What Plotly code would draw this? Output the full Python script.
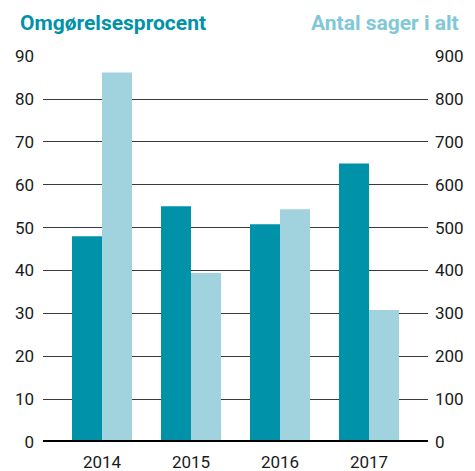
import plotly.graph_objects as go

years = ["2014", "2015", "2016", "2017"]
omgoerelsesprocent = [48.0, 55.0, 50.8, 65.0]
antal_sager = [862, 394, 543, 308]
left_ticks = [0, 10, 20, 30, 40, 50, 60, 70, 80, 90]
right_ticks = [0, 100, 200, 300, 400, 500, 600, 700, 800, 900]

DARK = "#0092A8"
LIGHT = "#A1D3DE"
FONT = "Roboto"

fig = go.Figure()
fig.add_trace(go.Bar(x=years, y=omgoerelsesprocent, marker_color=DARK,
                     offsetgroup="a", yaxis="y", showlegend=False,
                     marker_line_width=0))
fig.add_trace(go.Bar(x=years, y=antal_sager, marker_color=LIGHT,
                     offsetgroup="b", yaxis="y2", showlegend=False,
                     marker_line_width=0))

fig.update_layout(
    width=475, height=471,
    margin=dict(l=43, r=47, t=56, b=29, autoexpand=False),
    paper_bgcolor="white", plot_bgcolor="white",
    barmode="group", bargap=0.326, bargroupgap=0,
    font=dict(family=FONT, size=17, color="#1a1a1a"),
    xaxis=dict(type="category", range=[-0.663, 3.663], showgrid=False,
               showline=False, ticks="", tickfont=dict(size=17),
               ticklabelstandoff=8, automargin=False, fixedrange=True),
    yaxis=dict(range=[0, 90.05], tickvals=left_ticks, showgrid=True,
               gridcolor="#3a3a3a", gridwidth=1, zeroline=False,
               showline=False, ticks="", ticklabelstandoff=8,
               automargin=False, tickfont=dict(size=17)),
    yaxis2=dict(range=[0, 900.5], tickvals=right_ticks, overlaying="y",
                side="right", showgrid=False, zeroline=False,
                showline=False, ticks="", ticklabelstandoff=6,
                automargin=False, tickfont=dict(size=17)),
    shapes=[dict(type="line", xref="paper", yref="y", x0=0, x1=1, y0=0, y1=0,
                 line=dict(color="black", width=4), layer="above")],
    annotations=[
        dict(text="<b>Omgørelsesprocent</b>", xref="paper", yref="paper",
             x=-25/385, y=1, yshift=33, xanchor="left", yanchor="middle",
             showarrow=False, font=dict(family=FONT, size=21, color=DARK)),
        dict(text="<b>Antal sager i alt</b>", xref="paper", yref="paper",
             x=1 + 33/385, y=1, yshift=33, xanchor="right", yanchor="middle",
             showarrow=False, font=dict(family=FONT, size=21, color="#80C8D6")),
    ],
)

fig.write_html("out.html", config={"displayModeBar": False},
               post_script="document.body.style.margin='0';document.body.style.overflow='hidden';")
